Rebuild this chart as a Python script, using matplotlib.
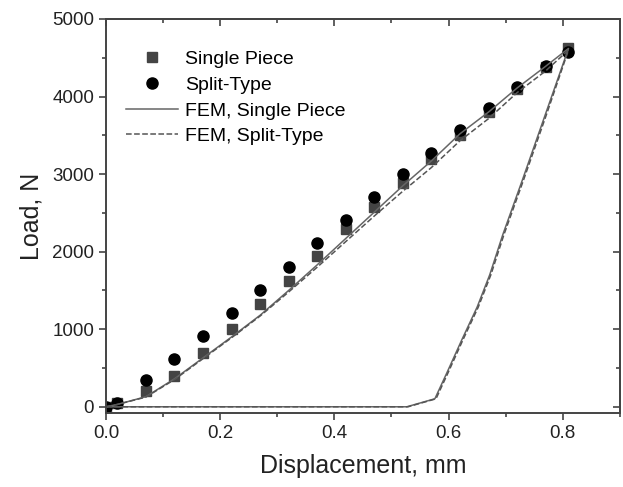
import numpy as np
import matplotlib
matplotlib.use('Agg')
import matplotlib.pyplot as plt
from matplotlib.ticker import MultipleLocator

plt.rcParams['font.family'] = ['Liberation Sans', 'DejaVu Sans']

# 实验数据
disp_exp = [0.0, 0.02, 0.07, 0.12, 0.17, 0.22, 0.27, 0.32, 0.37, 0.42,
            0.47, 0.52, 0.57, 0.62, 0.67, 0.72, 0.77, 0.81]
load_single = [0, 50, 205, 398, 694, 1003, 1324, 1620, 1941, 2288,
               2580, 2890, 3200, 3500, 3800, 4100, 4380, 4620]
load_split = [0, 50, 340, 617, 910, 1208, 1504, 1800, 2108, 2404,
              2700, 3000, 3270, 3570, 3850, 4120, 4400, 4580]

# 有限元曲线 (加载 + 卸载)
fem_disp_single = [0.0, 0.02, 0.07, 0.12, 0.17, 0.22, 0.27, 0.32, 0.37, 0.42, 0.47,
                   0.52, 0.57, 0.62, 0.67, 0.72, 0.77, 0.81,
                   0.77, 0.729, 0.695, 0.672, 0.65, 0.623, 0.597, 0.576, 0.527, 0.3, 0.0]
fem_load_single = [0, 30, 130, 360, 630, 900, 1180, 1500, 1830, 2170, 2510,
                   2850, 3170, 3520, 3800, 4110, 4390, 4620,
                   3780, 2918, 2220, 1700, 1285, 860, 437, 103, 0, 0, 0]
fem_disp_split = [0.0, 0.02, 0.07, 0.12, 0.17, 0.22, 0.27, 0.32, 0.37, 0.42, 0.47,
                  0.52, 0.57, 0.62, 0.67, 0.72, 0.77, 0.81,
                  0.772, 0.731, 0.697, 0.674, 0.652, 0.625, 0.599, 0.578, 0.529, 0.3, 0.0]
fem_load_split = [0, 30, 125, 350, 620, 890, 1170, 1480, 1800, 2130, 2460,
                  2780, 3085, 3430, 3715, 4050, 4330, 4600,
                  3780, 2918, 2220, 1700, 1285, 860, 437, 103, 0, 0, 0]

fig = plt.figure(figsize=(6.23, 4.87), dpi=100)
ax = fig.add_axes([0.170, 0.152, 0.825, 0.809])

ax.plot(disp_exp, load_single, 's', color='#444444', markersize=6.5, label='Single Piece')
ax.plot(disp_exp, load_split, 'o', color='black', markersize=8, label='Split-Type')
ax.plot(fem_disp_single, fem_load_single, '-', color='#666666', lw=1.1, label='FEM, Single Piece')
ax.plot(fem_disp_split, fem_load_split, '--', color='#555555', lw=1.1, label='FEM, Split-Type')

ax.set_xlim(0, 0.9)
ax.set_ylim(-80, 5000)
ax.xaxis.set_major_locator(MultipleLocator(0.2))
ax.xaxis.set_minor_locator(MultipleLocator(0.1))
ax.yaxis.set_major_locator(MultipleLocator(1000))
ax.yaxis.set_minor_locator(MultipleLocator(500))
ax.tick_params(which='both', direction='out', labelsize=13.5, colors='#444444',
               labelcolor='#222222', width=1.2)
ax.tick_params(which='major', length=5)
ax.tick_params(which='minor', length=3)

# 顶部和右侧的刻度朝内
top = ax.secondary_xaxis('top')
top.xaxis.set_major_locator(MultipleLocator(0.2))
top.xaxis.set_minor_locator(MultipleLocator(0.1))
top.tick_params(which='both', direction='in', labeltop=False, colors='#444444', width=1.2)
top.tick_params(which='major', length=5)
top.tick_params(which='minor', length=3)
right = ax.secondary_yaxis('right')
right.yaxis.set_major_locator(MultipleLocator(1000))
right.yaxis.set_minor_locator(MultipleLocator(500))
right.tick_params(which='both', direction='in', labelright=False, colors='#444444', width=1.2)
right.tick_params(which='major', length=5)
right.tick_params(which='minor', length=3)

for a in (ax, top, right):
    for s in a.spines.values():
        s.set_linewidth(1.4)
        s.set_color('#444444')

ax.set_xlabel('Displacement, mm', fontsize=18, color='#222222', labelpad=9)
ax.set_ylabel('Load, N', fontsize=18, color='#222222', labelpad=6)

ax.legend(loc='upper left', frameon=False, fontsize=14, bbox_to_anchor=(0.012, 0.955),
          handlelength=2.7, handletextpad=0.36, labelspacing=0.42, borderaxespad=0.3)

plt.savefig('out.png', dpi=100)
